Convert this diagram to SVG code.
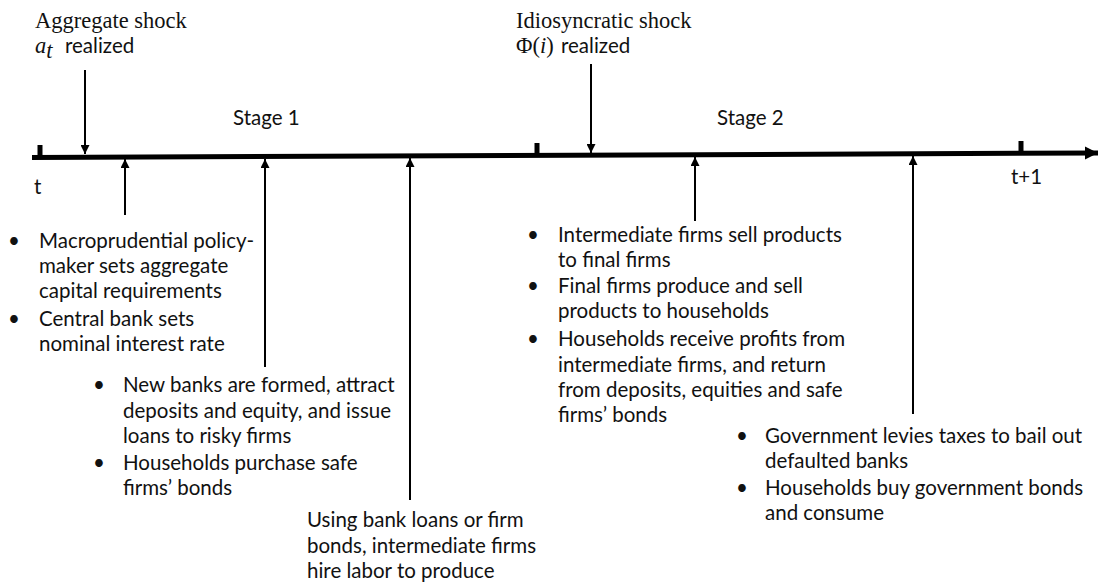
<svg xmlns="http://www.w3.org/2000/svg" width="1100" height="582" viewBox="0 0 1100 582">
<defs>
<marker id="ah" viewBox="0 0 10 10" refX="10" refY="5" markerWidth="5" markerHeight="4.5" orient="auto" markerUnits="strokeWidth"><path d="M0,0 L10,5 L0,10 z" fill="#000"/></marker>
<marker id="bigah" viewBox="0 0 10 10" refX="10" refY="5" markerWidth="2.6" markerHeight="2.8" orient="auto" markerUnits="strokeWidth"><path d="M0,0 L10,5 L0,10 z" fill="#000"/></marker>
<style>
.s{font-family:Lato,"Liberation Sans",sans-serif;font-size:20.5px;fill:#111}
.b{font-family:Lato,"Liberation Sans",sans-serif;font-size:20.5px;fill:#111;text-anchor:middle}
.m{font-family:"Liberation Serif",serif;font-size:22.5px;fill:#111}
.mi{font-family:"Liberation Serif",serif;font-size:22.5px;font-style:italic;fill:#111}
.a{stroke:#000;stroke-width:2;fill:none;marker-end:url(#ah)}
.tick{stroke:#000;stroke-width:5}
</style>
</defs>
<rect width="1100" height="582" fill="#fff"/>
<g id="timeline">
<line x1="32" y1="157.5" x2="1098" y2="153" stroke="#000" stroke-width="5" marker-end="url(#bigah)"/>
<line class="tick" x1="40" y1="145" x2="40" y2="157"/>
<line class="tick" x1="537" y1="143" x2="537" y2="155"/>
<line class="tick" x1="1021" y1="141" x2="1021" y2="153"/>
<text class="s" x="34" y="194">t</text>
<text class="s" x="1011" y="184">t+1</text>
<text class="s" x="233" y="125">Stage 1</text>
<text class="s" x="717" y="125">Stage 2</text>
</g>
<g id="connectors">
<line class="a" x1="85" y1="70" x2="85" y2="154"/>
<line class="a" x1="591" y1="64" x2="591" y2="153"/>
<line class="a" x1="125" y1="215" x2="125" y2="159"/>
<line class="a" x1="265" y1="367" x2="265" y2="159"/>
<line class="a" x1="410" y1="500" x2="410" y2="158"/>
<line class="a" x1="695" y1="221" x2="695" y2="157"/>
<line class="a" x1="913" y1="414" x2="913" y2="156"/>
</g>
<g id="aggregate-shock">
<text class="m" x="35" y="28">Aggregate shock</text>
<text x="35" y="53"><tspan class="mi">a</tspan><tspan class="mi" font-size="15" dy="5">t</tspan><tspan class="s" x="65" dy="-5">realized</tspan></text>
</g>
<g id="idiosyncratic-shock">
<text class="m" x="516" y="28">Idiosyncratic shock</text>
<text x="516" y="53"><tspan class="m">Φ(</tspan><tspan class="mi">i</tspan><tspan class="m">)</tspan><tspan class="s" x="561">realized</tspan></text>
</g>
<g id="policy">
<text class="b" x="14" y="248">•</text>
<text class="s" x="39" y="248">Macroprudential policy-</text>
<text class="s" x="39" y="273">maker sets aggregate</text>
<text class="s" x="39" y="298">capital requirements</text>
<text class="b" x="14" y="326">•</text>
<text class="s" x="39" y="326">Central bank sets</text>
<text class="s" x="39" y="351">nominal interest rate</text>
</g>
<g id="banks">
<text class="b" x="99" y="392">•</text>
<text class="s" x="123" y="392">New banks are formed, attract</text>
<text class="s" x="123" y="418">deposits and equity, and issue</text>
<text class="s" x="123" y="443">loans to risky firms</text>
<text class="b" x="99" y="470">•</text>
<text class="s" x="123" y="470">Households purchase safe</text>
<text class="s" x="123" y="495">firms’ bonds</text>
</g>
<g id="production">
<text class="s" x="307" y="527">Using bank loans or firm</text>
<text class="s" x="307" y="553">bonds, intermediate firms</text>
<text class="s" x="307" y="578">hire labor to produce</text>
</g>
<g id="stage2">
<text class="b" x="533" y="242">•</text>
<text class="s" x="558" y="242">Intermediate firms sell products</text>
<text class="s" x="558" y="267">to final firms</text>
<text class="b" x="533" y="293">•</text>
<text class="s" x="558" y="293">Final firms produce and sell</text>
<text class="s" x="558" y="318">products to households</text>
<text class="b" x="533" y="346">•</text>
<text class="s" x="558" y="346">Households receive profits from</text>
<text class="s" x="558" y="372">intermediate firms, and return</text>
<text class="s" x="558" y="397">from deposits, equities and safe</text>
<text class="s" x="558" y="422">firms’ bonds</text>
</g>
<g id="government">
<text class="b" x="742" y="443">•</text>
<text class="s" x="765" y="443">Government levies taxes to bail out</text>
<text class="s" x="765" y="468">defaulted banks</text>
<text class="b" x="742" y="495">•</text>
<text class="s" x="765" y="495">Households buy government bonds</text>
<text class="s" x="765" y="520">and consume</text>
</g>
</svg>
